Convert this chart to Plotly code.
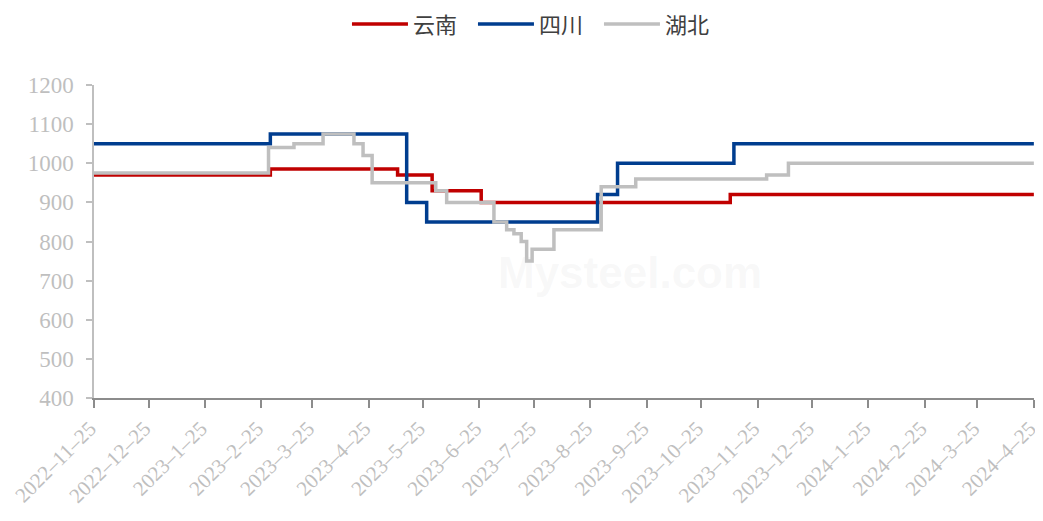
import plotly.graph_objects as go

# 云南
dates_yn = ["2022-11-25", "2023-03-02", "2023-05-11", "2023-05-30", "2023-06-26",
            "2023-11-10", "2024-04-25"]
vals_yn = [970, 985, 970, 930, 900, 920, 920]

# 四川
dates_sc = ["2022-11-25", "2023-03-02", "2023-05-16", "2023-05-27", "2023-08-29",
            "2023-09-09", "2023-11-12", "2024-04-25"]
vals_sc = [1050, 1075, 900, 850, 920, 1000, 1050, 1050]

# 湖北
dates_hb = ["2022-11-25", "2023-03-01", "2023-03-15", "2023-03-31", "2023-04-17",
            "2023-04-22", "2023-04-27", "2023-06-01", "2023-06-07", "2023-07-03",
            "2023-07-10", "2023-07-14", "2023-07-18", "2023-07-21", "2023-07-24",
            "2023-08-05", "2023-08-31", "2023-09-19", "2023-11-30", "2023-12-12",
            "2024-04-25"]
vals_hb = [975, 1040, 1050, 1075, 1050, 1020, 950, 930, 900, 850,
           830, 820, 800, 750, 780, 830, 940, 960, 970, 1000, 1000]

# Eixo x: dia 25 de cada mês
tick_vals = ["2022-11-25", "2022-12-25", "2023-01-25", "2023-02-25", "2023-03-25",
             "2023-04-25", "2023-05-25", "2023-06-25", "2023-07-25", "2023-08-25",
             "2023-09-25", "2023-10-25", "2023-11-25", "2023-12-25", "2024-01-25",
             "2024-02-25", "2024-03-25", "2024-04-25"]
tick_text = ["2022–11–25", "2022–12–25", "2023–1–25", "2023–2–25", "2023–3–25",
             "2023–4–25", "2023–5–25", "2023–6–25", "2023–7–25", "2023–8–25",
             "2023–9–25", "2023–10–25", "2023–11–25", "2023–12–25", "2024–1–25",
             "2024–2–25", "2024–3–25", "2024–4–25"]

series = [
    ("云南", dates_yn, vals_yn, "#C00000"),
    ("四川", dates_sc, vals_sc, "#003D8F"),
    ("湖北", dates_hb, vals_hb, "#BFBFBF"),
]

fig = go.Figure()
for nome, x, y, cor in series:
    fig.add_trace(go.Scatter(
        x=x, y=y, name=nome, mode="lines",
        line=dict(color=cor, width=3.5, shape="hv"),
    ))

# Marca d'água
fig.add_annotation(
    x=0.57, y=0.40, xref="paper", yref="paper",
    text="<b>Mysteel.com</b>", showarrow=False,
    font=dict(size=44, color="rgba(200,200,200,0.13)", family="Arial"),
)

# A página tem margem de 8px no body, por isso a figura é deslocada
fig.update_layout(
    width=1035, height=505,
    margin=dict(l=86, r=9, t=77, b=115),
    plot_bgcolor="white",
    paper_bgcolor="white",
    showlegend=True,
    legend=dict(
        orientation="h", xref="container", yref="container",
        x=0.3275, y=0.968, xanchor="left", yanchor="middle",
        font=dict(family="Noto Sans CJK SC", size=22, color="#404040"),
        itemwidth=56, entrywidth=55, tracegroupgap=0,
    ),
    xaxis=dict(
        type="date", automargin=False,
        range=["2022-11-25", "2024-04-25 02:00"],
        tickvals=tick_vals, ticktext=tick_text,
        tickangle=-45, ticklabeloverflow="allow", ticklabelshift=-4,
        showgrid=False, zeroline=False,
        showline=True, linecolor="#8c8c8c", linewidth=2,
        ticks="outside", ticklen=8, tickcolor="#8c8c8c", tickwidth=2,
        tickfont=dict(family="Liberation Serif", size=21, color="#BFBFBF"),
    ),
    yaxis=dict(
        automargin=False,
        range=[400, 1200],
        tickvals=[400, 500, 600, 700, 800, 900, 1000, 1100, 1200],
        showgrid=False, zeroline=False,
        showline=True, linecolor="#BFBFBF", linewidth=1.5,
        ticks="outside", ticklen=6, tickcolor="#BFBFBF", tickwidth=1.5,
        ticklabelstandoff=8,
        tickfont=dict(family="Liberation Serif", size=23, color="#BFBFBF"),
    ),
)

fig.write_html("out.html")
